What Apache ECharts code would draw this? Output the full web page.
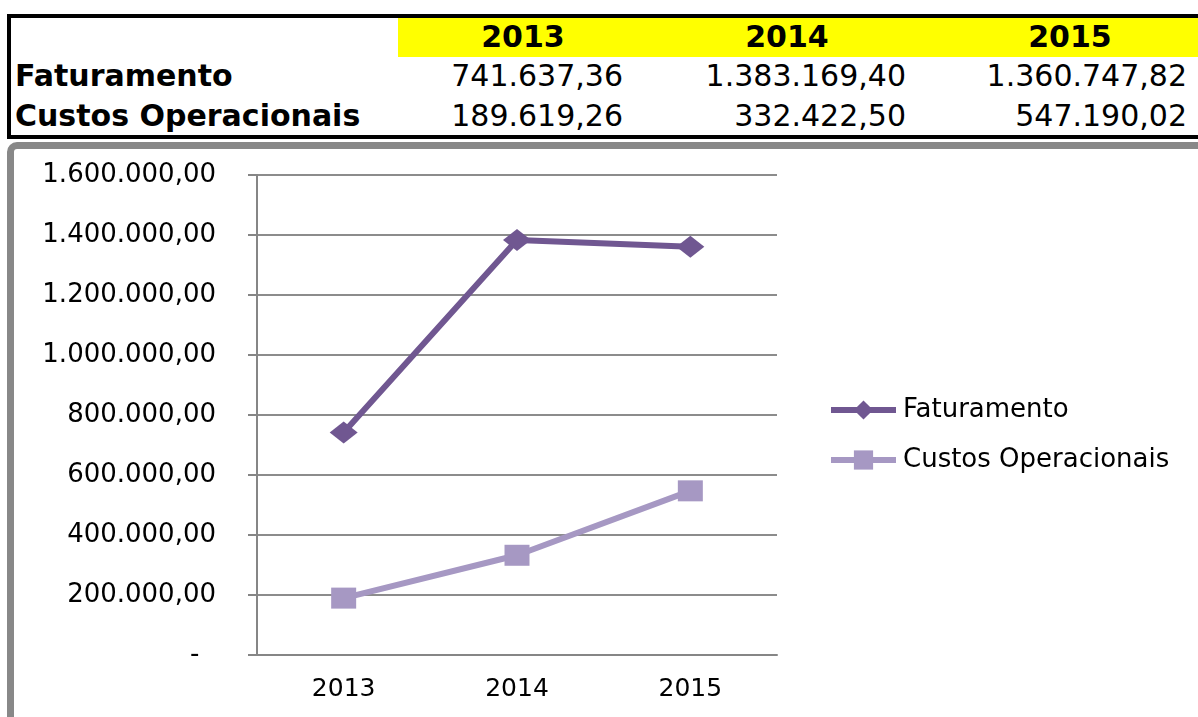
<!DOCTYPE html>
<html>
<head>
<meta charset="utf-8">
<script src="https://cdn.jsdelivr.net/npm/echarts@6/dist/echarts.min.js"></script>
<style>
  html, body { margin: 0; padding: 0; background: #fff; overflow: hidden; }
  body { width: 1198px; height: 717px; position: relative; font-family: "DejaVu Sans", sans-serif; }
  #tabela { position: absolute; left: 7px; top: 14px; width: 1250px; height: 117px; border: 4px solid #000; }
  #amarelo { position: absolute; left: 398px; top: 18px; width: 800px; height: 39px; background: #ffff00; }
  .txt { position: absolute; font-size: 30px; color: #000; white-space: nowrap; line-height: 40px; }
  .bold { font-weight: bold; }
  #moldura { position: absolute; left: 7px; top: 142px; width: 1300px; height: 700px; border: 7px solid #888; border-radius: 10px; }
  #chart { position: absolute; left: 0; top: 0; width: 1198px; height: 717px; }
</style>
</head>
<body>
<div id="tabela"></div>
<div id="amarelo"></div>
<div id="moldura"></div>
<div id="linhas"></div>
<div id="chart"></div>
<script>
var anos = ['2013', '2014', '2015']
var faturamento = [741637.36, 1383169.40, 1360747.82]
var custos = [189619.26, 332422.50, 547190.02]
var nomes = ['Faturamento', 'Custos Operacionais']

function formatBR(v) {
  var partes = v.toFixed(2).split('.')
  var inteiro = partes[0].replace(/\B(?=(\d{3})+(?!\d))/g, '.')
  return inteiro + ',' + partes[1]
}

// tabela em cima
var colCentro = [523, 787, 1070]
var colDireita = [623, 906, 1187]
var html = ''
anos.forEach(function (a, i) {
  html += '<div class="txt bold" style="top:17px;left:' + (colCentro[i] - 100) + 'px;width:200px;text-align:center">' + a + '</div>'
})
html += '<div class="txt bold" style="top:56px;left:15px">' + nomes[0] + '</div>'
html += '<div class="txt bold" style="top:96px;left:15px">' + nomes[1] + '</div>'
faturamento.forEach(function (v, i) {
  html += '<div class="txt" style="top:56px;left:' + (colDireita[i] - 300) + 'px;width:300px;text-align:right">' + formatBR(v) + '</div>'
})
custos.forEach(function (v, i) {
  html += '<div class="txt" style="top:96px;left:' + (colDireita[i] - 300) + 'px;width:300px;text-align:right">' + formatBR(v) + '</div>'
})
document.getElementById('linhas').innerHTML = html

var chart = echarts.init(document.getElementById('chart'))
chart.setOption({
  animation: false,
  textStyle: { fontFamily: 'DejaVu Sans' },
  grid: { left: 257, right: 421, top: 175, bottom: 62 },
  legend: {
    orient: 'vertical',
    left: 828,
    top: 397,
    padding: 0,
    itemWidth: 65,
    itemHeight: 24,
    itemGap: 24,
    lineStyle: { width: 6 },
    textStyle: { fontSize: 26, color: '#000', fontFamily: 'DejaVu Sans', padding: [0, 0, 0, 2] },
    data: nomes
  },
  xAxis: {
    type: 'category',
    data: anos,
    boundaryGap: true,
    axisLine: { lineStyle: { color: '#868686', width: 2 } },
    axisTick: { length: 9, lineStyle: { color: '#868686', width: 2 } },
    axisLabel: { fontSize: 25, color: '#000', margin: 22 }
  },
  yAxis: {
    type: 'value',
    min: 0,
    max: 1600000,
    interval: 200000,
    axisLine: { show: true, lineStyle: { color: '#868686', width: 2 } },
    axisTick: { show: true, length: 9, lineStyle: { color: '#868686', width: 2 } },
    splitLine: { lineStyle: { color: '#8c8c8c', width: 2 } },
    axisLabel: {
      fontSize: 26,
      color: '#000',
      margin: 41,
      formatter: function (v) { return v === 0 ? '-  ' : formatBR(v) }
    }
  },
  series: [
    {
      name: nomes[0],
      type: 'line',
      data: faturamento,
      symbol: 'diamond',
      symbolSize: [28, 22],
      itemStyle: { color: '#705791' },
      lineStyle: { color: '#705791', width: 6 }
    },
    {
      name: nomes[1],
      type: 'line',
      data: custos,
      symbol: 'rect',
      symbolSize: [25, 21],
      itemStyle: { color: '#a698c3' },
      lineStyle: { color: '#a698c3', width: 6 }
    }
  ]
})
</script>
</body>
</html>
